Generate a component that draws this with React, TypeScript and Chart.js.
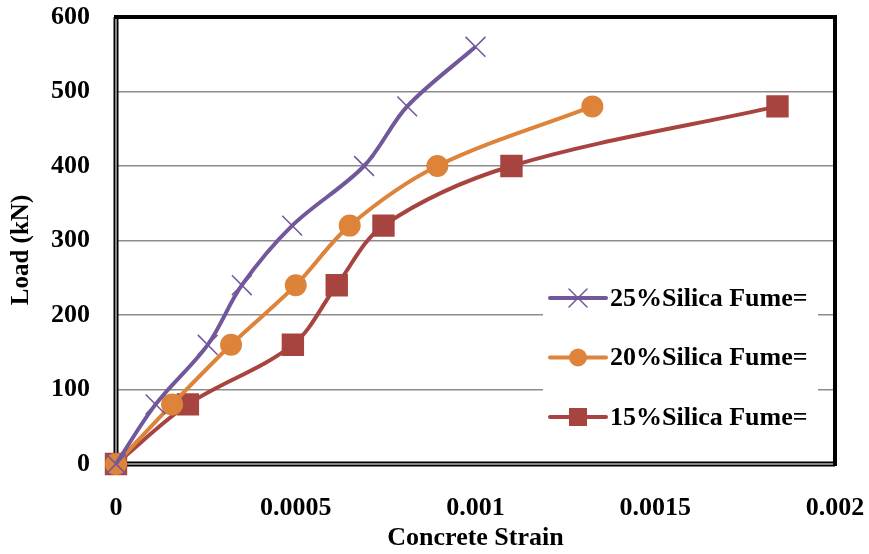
import { useEffect, useRef } from "react";
import { Chart, registerables } from "chart.js";

Chart.register(...registerables);

// Load–strain readings for each silica fume mix
const strain25 = [0, 0.00011, 0.000255, 0.00035, 0.00049, 0.00069, 0.00081, 0.001];
const load25 = [0, 80, 160, 240, 320, 400, 480, 560];
const strain20 = [0, 0.000156, 0.00032, 0.0005, 0.00065, 0.000894, 0.001325];
const load20 = [0, 80, 160, 240, 320, 400, 480];
const strain15 = [0, 0.0002, 0.000492, 0.000614, 0.000744, 0.0011, 0.00184];
const load15 = [0, 80, 160, 240, 320, 400, 480];

const seriesLabels = ["25%Silica Fume=", "20%Silica Fume=", "15%Silica Fume="];
const xTickLabels = ["0", "0.0005", "0.001", "0.0015", "0.002"];
const yTickLabels = ["0", "100", "200", "300", "400", "500", "600"];
const xTitle = "Concrete Strain";
const yTitle = "Load (kN)";

const PURPLE = "#71589b";
const ORANGE = "#dd833a";
const RED = "#a8443f";
const FONT = "'Liberation Serif', 'Times New Roman', serif";

const toPoints = (xs: number[], ys: number[]) => xs.map((x, i) => ({ x, y: ys[i] }));

// Black frame around the plotting area (double rule on the axis sides)
const framePlugin = {
  id: "frame",
  beforeDatasetsDraw(chart: any) {
    const { ctx, chartArea: a } = chart;
    ctx.save();
    ctx.strokeStyle = "#000";
    ctx.lineWidth = 4;
    ctx.strokeRect(a.left, a.top, a.right - a.left, a.bottom - a.top);
    ctx.lineWidth = 5;
    ctx.beginPath();
    ctx.moveTo(a.left, a.top);
    ctx.lineTo(a.left, a.bottom);
    ctx.lineTo(a.right, a.bottom);
    ctx.stroke();
    ctx.strokeStyle = "#b4b4b4";
    ctx.lineWidth = 1.5;
    ctx.beginPath();
    ctx.moveTo(a.left, a.top + 2);
    ctx.lineTo(a.left, a.bottom);
    ctx.lineTo(a.right - 2, a.bottom);
    ctx.stroke();
    ctx.restore();
  },
};

// Rotated y-axis title
const yTitlePlugin = {
  id: "yTitle",
  afterDraw(chart: any) {
    const { ctx } = chart;
    ctx.save();
    ctx.translate(22, 250);
    ctx.rotate(-Math.PI / 2);
    ctx.font = `bold 25px ${FONT}`;
    ctx.fillStyle = "#000";
    ctx.textAlign = "center";
    ctx.textBaseline = "middle";
    ctx.fillText(yTitle, 0, 0);
    ctx.restore();
  },
};

function drawMarker(ctx: CanvasRenderingContext2D, style: string, x: number, y: number, color: string) {
  ctx.save();
  ctx.fillStyle = color;
  ctx.strokeStyle = color;
  if (style === "crossRot") {
    const d = 9;
    ctx.lineWidth = 1.5;
    ctx.beginPath();
    ctx.moveTo(x - d, y - d);
    ctx.lineTo(x + d, y + d);
    ctx.moveTo(x - d, y + d);
    ctx.lineTo(x + d, y - d);
    ctx.stroke();
  } else if (style === "circle") {
    ctx.beginPath();
    ctx.arc(x, y, 9, 0, Math.PI * 2);
    ctx.fill();
  } else {
    ctx.fillRect(x - 9, y - 9, 18, 18);
  }
  ctx.restore();
}

// Legend placed inside the plot, each entry showing line + marker
const legendPlugin = {
  id: "insideLegend",
  afterDatasetsDraw(chart: any) {
    const { ctx, chartArea: a } = chart;
    const boxLeft = a.left + 427;
    const boxRight = a.left + 702;
    const boxTop = a.top + 250;
    const boxBottom = a.top + 430;
    ctx.save();
    ctx.fillStyle = "#fff";
    ctx.fillRect(boxLeft, boxTop, boxRight - boxLeft, boxBottom - boxTop);
    ctx.font = `bold 26px ${FONT}`;
    ctx.textBaseline = "middle";
    ctx.textAlign = "left";
    chart.data.datasets.forEach((ds: any, i: number) => {
      const y = a.top + 281 + i * 59.5;
      const x0 = boxLeft + 7;
      const x1 = x0 + 56;
      ctx.strokeStyle = ds.borderColor;
      ctx.lineWidth = 4;
      ctx.lineCap = "round";
      ctx.beginPath();
      ctx.moveTo(x0, y);
      ctx.lineTo(x1, y);
      ctx.stroke();
      drawMarker(ctx, ds.pointStyle, (x0 + x1) / 2, y, ds.borderColor);
      ctx.fillStyle = "#000";
      ctx.fillText(ds.label, x1 + 4, y + 1);
    });
    ctx.restore();
  },
};

export default function App() {
  const canvasRef = useRef<HTMLCanvasElement | null>(null);

  useEffect(() => {
    if (!canvasRef.current) return;
    const chart = new Chart(canvasRef.current, {
      type: "line",
      data: {
        datasets: [
          {
            label: seriesLabels[0],
            data: toPoints(strain25, load25),
            borderColor: PURPLE,
            backgroundColor: PURPLE,
            borderWidth: 4,
            pointStyle: "crossRot",
            pointRadius: 14,
            pointBorderWidth: 1.5,
            tension: 0.33,
            clip: false,
          },
          {
            label: seriesLabels[1],
            data: toPoints(strain20, load20),
            borderColor: ORANGE,
            backgroundColor: ORANGE,
            borderWidth: 4,
            pointStyle: "circle",
            pointRadius: 9,
            tension: 0.33,
            clip: false,
          },
          {
            label: seriesLabels[2],
            data: toPoints(strain15, load15),
            borderColor: RED,
            backgroundColor: RED,
            borderWidth: 4,
            pointStyle: "rect",
            pointRadius: 13,
            tension: 0.33,
            clip: false,
          },
        ],
      },
      options: {
        animation: false,
        responsive: false,
        layout: { padding: { top: 17, right: 34, left: 0, bottom: 0 } },
        plugins: {
          legend: { display: false },
          tooltip: { enabled: false },
        },
        scales: {
          x: {
            type: "linear",
            min: 0,
            max: 0.002,
            afterFit: (s: any) => {
              s.height = 90;
              s.paddingLeft = 0;
              s.paddingRight = 0;
            },
            afterBuildTicks: (s: any) => {
              s.ticks = xTickLabels.map((t) => ({ value: Number(t) }));
            },
            ticks: {
              color: "#000",
              padding: 29,
              maxRotation: 0,
              font: { family: FONT, size: 26, weight: "bold" },
              callback: (_v: any, i: number) => xTickLabels[i],
            },
            grid: { display: false, drawTicks: false },
            border: { display: false },
            title: {
              display: true,
              text: xTitle,
              color: "#000",
              padding: { top: 0, bottom: 0 },
              font: { family: FONT, size: 26, weight: "bold", lineHeight: 1.2 },
            },
          },
          y: {
            type: "linear",
            min: 0,
            max: 600,
            afterFit: (s: any) => {
              s.width = 116;
              s.paddingTop = 0;
              s.paddingBottom = 0;
            },
            afterBuildTicks: (s: any) => {
              s.ticks = yTickLabels.map((t) => ({ value: Number(t) }));
            },
            ticks: {
              color: "#000",
              padding: 26,
              font: { family: FONT, size: 26, weight: "bold" },
              callback: (_v: any, i: number) => yTickLabels[i],
            },
            grid: { color: "#8c8c8c", lineWidth: 1.5, drawTicks: false },
            border: { display: false },
            title: { display: false },
          },
        },
      },
      plugins: [framePlugin, legendPlugin, yTitlePlugin],
    });
    return () => chart.destroy();
  }, []);

  return (
    <div style={{ position: "absolute", left: 0, top: 0, width: 869, height: 554, background: "#fff" }}>
      <canvas ref={canvasRef} width={869} height={554} />
    </div>
  );
}
